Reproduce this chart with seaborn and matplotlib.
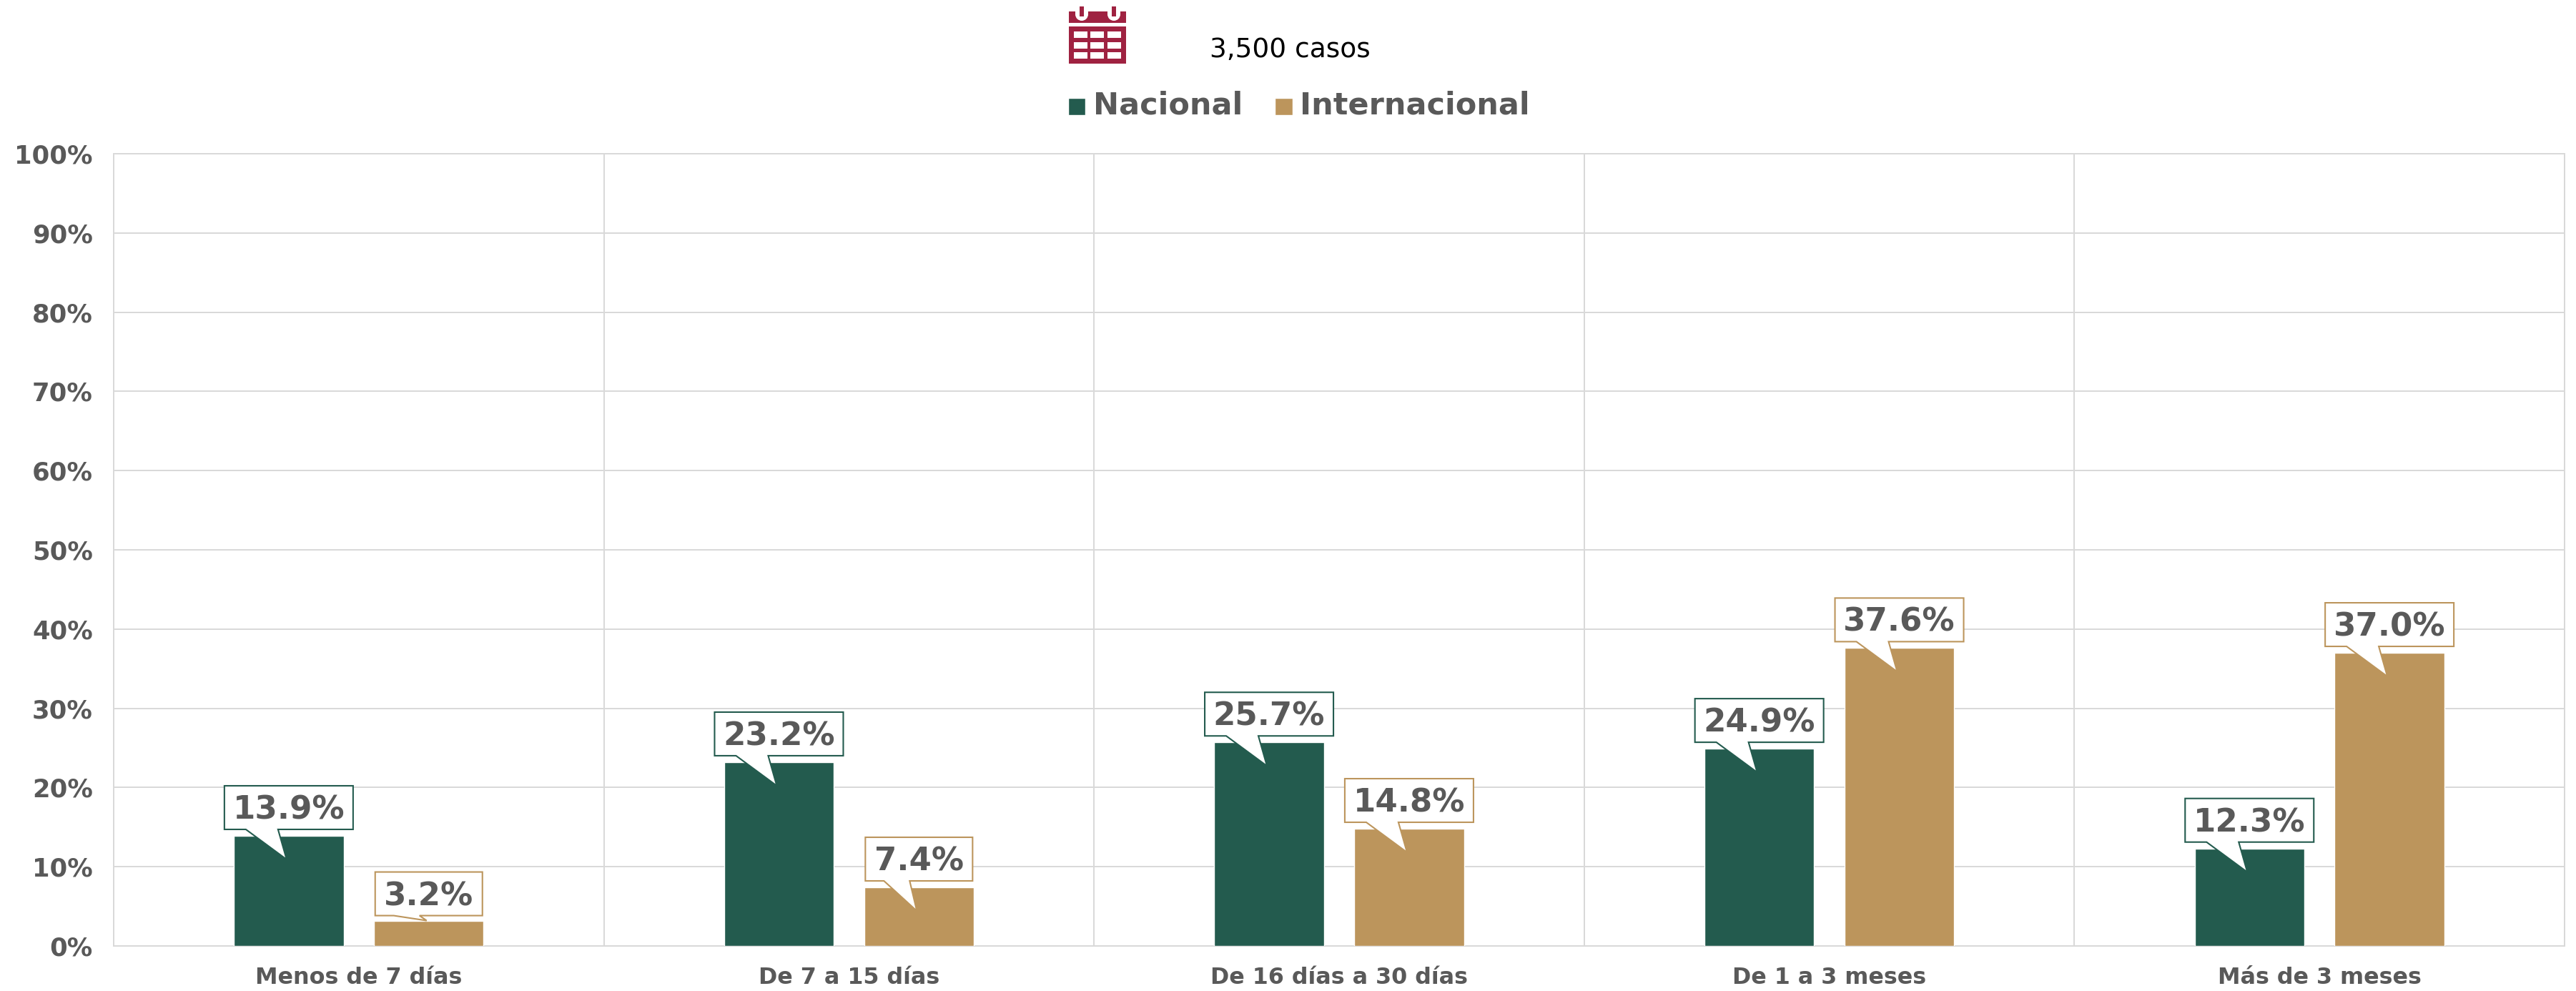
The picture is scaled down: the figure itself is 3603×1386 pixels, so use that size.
import seaborn as sns
import matplotlib.pyplot as plt
import pandas as pd
from matplotlib.patches import Polygon, Rectangle, Wedge
from matplotlib.transforms import IdentityTransform

W, H = 3603, 1386
DPI = 100

categories = ["Menos de 7 días", "De 7 a 15 días", "De 16 días a 30 días", "De 1 a 3 meses", "Más de 3 meses"]
nacional = [13.9, 23.2, 25.7, 24.9, 12.3]
internacional = [3.2, 7.4, 14.8, 37.6, 37.0]
series_names = ["Nacional", "Internacional"]
colors = ["#235B4E", "#BC955C"]
total_label = "3,500 casos"

GREY = "#595959"
GRID = "#D9D9D9"
RED = "#9F2241"

# Axes box in pixels
LEFT, RIGHT, TOP, BOTTOM = 159, 3587, 215, 1323

sns.set_style("white")
plt.rcParams["font.family"] = ["DejaVu Sans"]

df = pd.DataFrame({
    "categoria": categories * 2,
    "tipo": [series_names[0]] * 5 + [series_names[1]] * 5,
    "valor": nacional + internacional,
})

fig = plt.figure(figsize=(W / DPI, H / DPI), dpi=DPI)
ax = fig.add_axes([LEFT / W, 1 - BOTTOM / H, (RIGHT - LEFT) / W, (BOTTOM - TOP) / H])

sns.barplot(
    data=df, x="categoria", y="valor", hue="tipo",
    palette=colors, width=0.571, gap=0.216, saturation=1, ax=ax, zorder=3,
)

ax.set_xlim(-0.5, 4.5)
ax.set_ylim(0, 100)
ax.set_xlabel("")
ax.set_ylabel("")
ax.set_yticks(range(0, 101, 10))
ax.set_yticklabels([f"{t}%" for t in range(0, 101, 10)], fontsize=25.5, fontweight="bold", color=GREY)
ax.set_xticks(range(5))
ax.set_xticklabels(categories, fontsize=22.9, fontweight="bold", color=GREY)
ax.set_xticks([i + 0.5 for i in range(4)], minor=True)
ax.tick_params(axis="both", which="both", length=0)
ax.tick_params(axis="x", pad=21)
ax.tick_params(axis="y", pad=21)
ax.grid(True, axis="y", color=GRID, linewidth=1.44, zorder=0)
ax.grid(True, axis="x", which="minor", color=GRID, linewidth=1.44, zorder=0)
ax.set_axisbelow(True)
for spine in ax.spines.values():
    spine.set_color(GRID)
    spine.set_linewidth(1.44)

# pixel to data scales for the callouts
px_x = 5 / (RIGHT - LEFT)
px_y = 100 / (BOTTOM - TOP)


def callout(cx, value, color):
    label = f"{value:.1f}%"
    if len(label) == 5:
        half, left_base, right_base = 90, -60, -15
    else:
        half, left_base, right_base = 75, -49, -13
    # the shortest bar only gets a stub of a pointer
    tip, gap = (33, 9) if value >= 5 else (0, 7)
    pts = [
        (-half, gap), (left_base, gap), (-3, -tip), (right_base, gap),
        (half, gap), (half, gap + 61), (-half, gap + 61),
    ]
    poly = [(cx + dx * px_x, value + dy * px_y) for dx, dy in pts]
    ax.add_patch(Polygon(poly, closed=True, facecolor="white", edgecolor=color, linewidth=1.5, zorder=5, joinstyle="miter"))
    ax.text(cx, value + (gap + 27) * px_y, label, ha="center", va="center",
            fontsize=32.5, fontweight="bold", color=GREY, zorder=6)


offset = 0.5714 / 4
for i in range(5):
    callout(i - offset, nacional[i], colors[0])
    callout(i + offset, internacional[i], colors[1])

# Legend
handles, labels = ax.get_legend_handles_labels()
leg = ax.legend(
    handles, labels, loc="center", bbox_to_anchor=(1817, H - 148),
    bbox_transform=IdentityTransform(), ncol=2, frameon=False,
    prop={"size": 31, "weight": "bold"}, labelcolor=GREY,
    handlelength=0.56, handleheight=0.5, handletextpad=0.25, columnspacing=1.05,
)
for h in leg.legend_handles:
    h.set_y(h.get_y() - 3)


# Calendar icon, drawn in pixels from the top-left corner
def px_rect(x0, y0, x1, y1, color):
    fig.add_artist(Rectangle((x0, H - y1), x1 - x0, y1 - y0, facecolor=color, edgecolor="none",
                             transform=IdentityTransform()))


px_rect(1495, 16, 1575, 32, RED)
px_rect(1495, 37, 1575, 89, RED)
for x0 in (1502, 1525, 1549):
    for y0 in (44, 59, 73):
        px_rect(x0, y0, x0 + 19, y0 + 9, "white")
for x0 in (1504, 1549):
    px_rect(x0, 16, x0 + 18, 20, "white")
    fig.add_artist(Wedge((x0 + 9, H - 20), 9, 180, 360, facecolor="white", edgecolor="none",
                         transform=IdentityTransform()))
    px_rect(x0 + 6, 9, x0 + 12, 23, RED)

fig.text(1692 / W, 1 - 70 / H, total_label, fontsize=27, color="black", ha="left", va="center")

plt.savefig("out.png", dpi=DPI)
plt.close()
